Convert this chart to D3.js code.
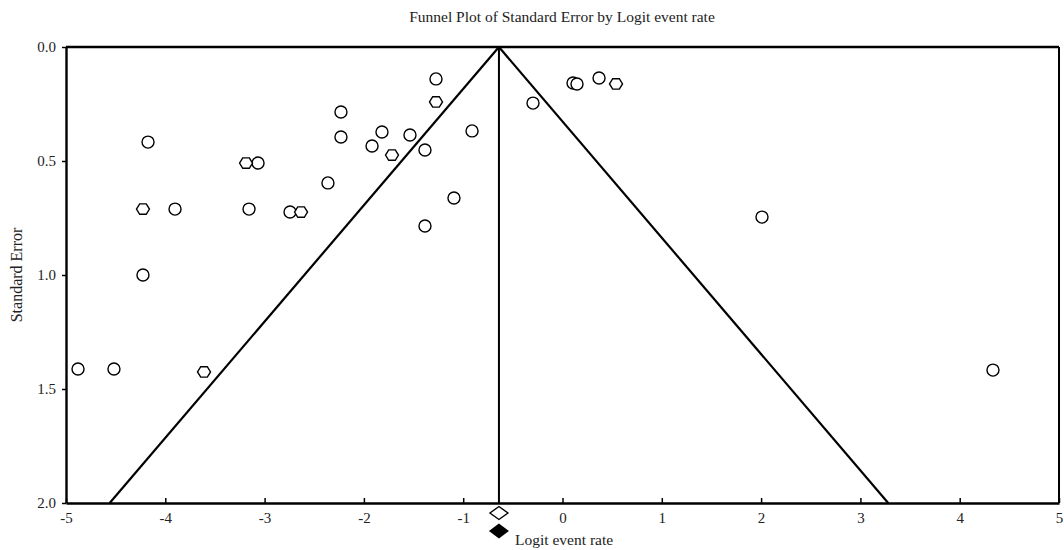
<!DOCTYPE html>
<html><head><meta charset="utf-8">
<script src="https://cdn.jsdelivr.net/npm/d3@7"></script>
<style>body{margin:0;background:#fff}svg{display:block}text{font-family:"Liberation Serif","Times New Roman",serif;fill:#222}</style>
</head><body><svg id="c" width="1064" height="550"></svg>
<script>
// Observed studies (open circles): logit event rate, standard error
const circleX = [-4.174,-4.879,-4.517,-4.225,-3.902,-3.157,-3.066,-2.744,-2.362,-2.231,-2.231,-1.918,-1.818,-1.536,-1.385,-1.274,-0.911,-1.093,-1.385,-0.297,0.106,0.146,0.368,2.009,4.335];
const circleSE = [0.417,1.412,1.412,1.0,0.711,0.711,0.509,0.724,0.596,0.285,0.395,0.434,0.373,0.386,0.452,0.140,0.368,0.662,0.785,0.246,0.158,0.162,0.136,0.746,1.417];
// Hexagon markers
const hexX = [-4.225,-3.187,-2.633,-1.717,-1.274,-3.610,0.539];
const hexSE = [0.711,0.509,0.724,0.474,0.241,1.425,0.162];
const pooled = -0.64;      // combined logit event rate (funnel centre)
const xTicks = [-5,-4,-3,-2,-1,0,1,2,3,4,5];
const xTickLabels = ["-5","-4","-3","-2","-1","0","1","2","3","4","5"];
const yTicks = [0,0.5,1,1.5,2];
const yTickLabels = ["0.0","0.5","1.0","1.5","2.0"];

const svg = d3.select("#c");
const x = d3.scaleLinear().domain([-5,5]).range([66,1059]);
const y = d3.scaleLinear().domain([0,2]).range([47,503]);

// title
svg.append("text").attr("x",562).attr("y",22).attr("text-anchor","middle").attr("font-size",15.5).text("Funnel Plot of Standard Error by Logit event rate");

// funnel
const ln = (x1,y1,x2,y2,w)=>svg.append("line").attr("x1",x1).attr("y1",y1).attr("x2",x2).attr("y2",y2).attr("stroke","#000").attr("stroke-width",w);
ln(x(pooled),y(0),x(pooled-1.96*2),y(2),2.2);
ln(x(pooled),y(0),x(pooled+1.96*2),y(2),2.2);
ln(x(pooled),y(0),x(pooled),y(2),2);

// frame
ln(x(-5),y(0),x(5),y(0),2.6);
ln(x(5),y(0),x(5),y(2),2);

// axes
const xa = svg.append("g").attr("transform",`translate(0,${y(2)})`)
  .call(d3.axisBottom(x).tickValues(xTicks).tickFormat((d,i)=>xTickLabels[i]).tickSizeInner(-5).tickSizeOuter(0).tickPadding(9));
xa.select(".domain").attr("stroke","#000").attr("stroke-width",2.4);
xa.selectAll(".tick line").attr("stroke","#000").attr("stroke-width",1.5);
xa.selectAll("text").attr("font-size",15).attr("font-family","Liberation Serif").attr("fill","#222");
const ya = svg.append("g").attr("transform",`translate(${x(-5)},0)`)
  .call(d3.axisLeft(y).tickValues(yTicks).tickFormat((d,i)=>yTickLabels[i]).tickSizeInner(4).tickSizeOuter(0).tickPadding(6));
ya.select(".domain").attr("stroke","#000").attr("stroke-width",2.4);
ya.selectAll(".tick line").attr("stroke","#000").attr("stroke-width",1.5);
ya.selectAll("text").attr("font-size",15).attr("font-family","Liberation Serif").attr("fill","#222");

svg.append("text").attr("transform","translate(22,275) rotate(-90)").attr("text-anchor","middle").attr("font-size",16).text("Standard Error");

// points
svg.append("g").selectAll("circle").data(circleX.map((v,i)=>[v,circleSE[i]])).join("circle")
  .attr("cx",d=>x(d[0])).attr("cy",d=>y(d[1])).attr("r",6).attr("fill","#fff").attr("stroke","#000").attr("stroke-width",1.4);
const hex = "M-6.5,0L-3.3,-5.2L3.3,-5.2L6.5,0L3.3,5.2L-3.3,5.2Z";
svg.append("g").selectAll("path").data(hexX.map((v,i)=>[v,hexSE[i]])).join("path")
  .attr("d",hex).attr("transform",d=>`translate(${x(d[0])},${y(d[1])})`).attr("fill","#fff").attr("stroke","#000").attr("stroke-width",1.4);

// diamonds below axis
svg.append("path").attr("d","M-9,0L0,-6.5L9,0L0,6.5Z").attr("transform",`translate(${x(pooled)},513)`).attr("fill","#fff").attr("stroke","#000").attr("stroke-width",1.4);
svg.append("path").attr("d","M-10,0L0,-7.5L10,0L0,7.5Z").attr("transform",`translate(${x(pooled)},531)`).attr("fill","#000");

svg.append("text").attr("x",515).attr("y",545).attr("font-size",15.5).text("Logit event rate");
</script></body></html>
